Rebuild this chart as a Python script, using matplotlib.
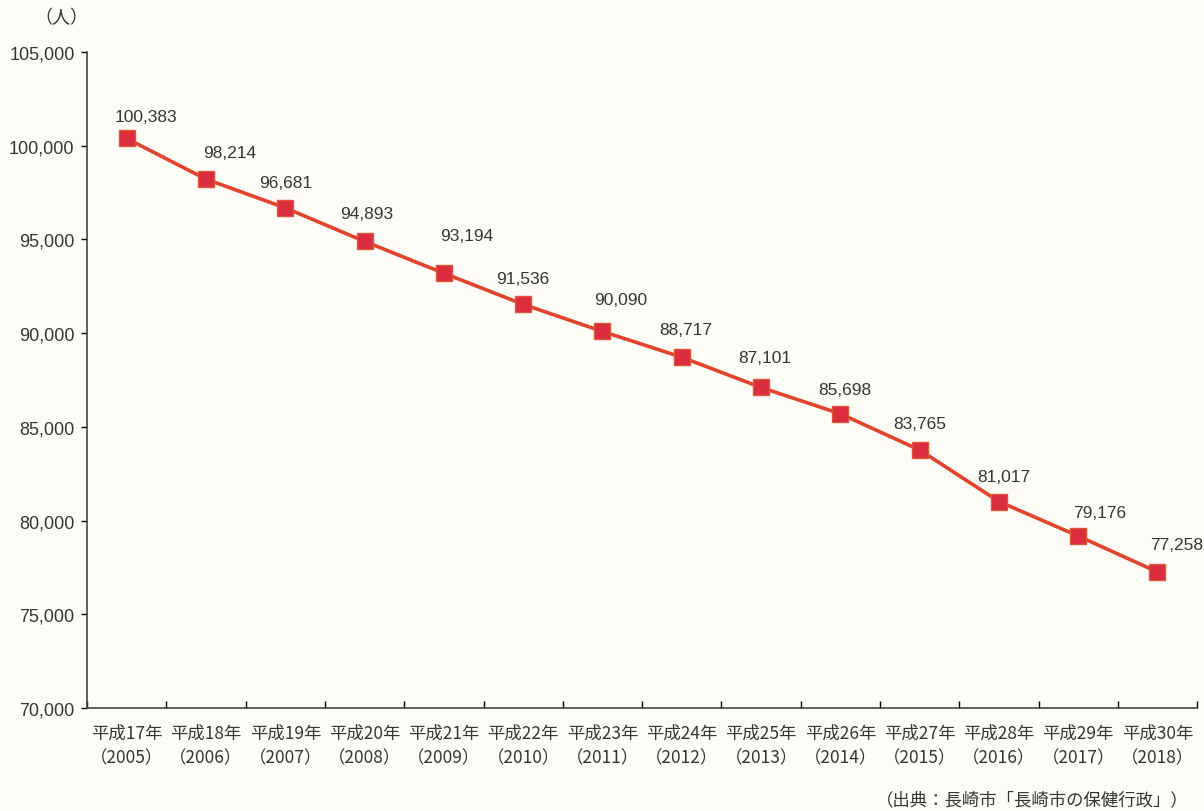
import numpy as np
import matplotlib
matplotlib.use('Agg')
import matplotlib.pyplot as plt
from matplotlib.ticker import FuncFormatter

plt.rcParams['font.family'] = ['Noto Sans CJK JP', 'DejaVu Sans']

# data
eras = ['平成17年', '平成18年', '平成19年', '平成20年', '平成21年', '平成22年', '平成23年',
        '平成24年', '平成25年', '平成26年', '平成27年', '平成28年', '平成29年', '平成30年']
years = [2005, 2006, 2007, 2008, 2009, 2010, 2011, 2012, 2013, 2014, 2015, 2016, 2017, 2018]
population = [100383, 98214, 96681, 94893, 93194, 91536, 90090,
              88717, 87101, 85698, 83765, 81017, 79176, 77258]

# label offsets in pixels (dx, dy) -- layout only
label_off = [(19, 22), (24, 27), (0, 25), (2, 28), (23, 38), (0, 26), (18, 32),
             (4, 28), (4, 30), (4, 24), (0, 27), (5, 25), (21, 24), (19, 27)]

bg = '#fdfcf6'
num_font = ['Liberation Sans', 'DejaVu Sans']
fig = plt.figure(figsize=(12.04, 8.12), dpi=100, facecolor=bg)
ax = fig.add_axes([0.0723, 0.1268, 0.922, 0.808], facecolor=bg)

x = np.arange(len(population))
ax.plot(x, population, color='#e3432c', lw=2.6, zorder=2)
ax.plot(x, population, ls='none', marker='s', ms=11, mfc='#da2d3e',
        mec='#e0553a', mew=1.0, zorder=3)

for i, v in enumerate(population):
    dx, dy = label_off[i]
    ax.annotate(f'{v:,}', (x[i], v), xytext=(dx, dy), textcoords='offset pixels',
                ha='center', va='center', fontsize=12.5, color='#363636',
                family=num_font)

ax.set_xlim(-0.5, len(population) - 0.5)
ax.set_ylim(70000, 105000)
ax.set_yticks(np.arange(70000, 105001, 5000))
ax.yaxis.set_major_formatter(FuncFormatter(lambda v, p: f'{int(v):,}'))
ax.tick_params(axis='y', direction='out', length=4, width=1, labelsize=13,
               labelcolor='#363636', pad=5)
for t in ax.get_yticklabels():
    t.set_family(num_font)

ax.set_xticks(np.arange(-0.5, len(population), 1.0))
ax.set_xticklabels([])
ax.tick_params(axis='x', direction='in', length=5, width=1)
ax.set_xticks(x, minor=True)
ax.set_xticklabels([f'{e}\n（{y}）' for e, y in zip(eras, years)], minor=True,
                   fontsize=12.5, color='#363636', linespacing=1.5)
ax.tick_params(axis='x', which='minor', length=0, pad=11)

for s in ['top', 'right']:
    ax.spines[s].set_visible(False)
for s in ['left', 'bottom']:
    ax.spines[s].set_color('#444444')
    ax.spines[s].set_linewidth(1.2)

fig.text(0.029, 0.978, '（人）', fontsize=13, color='#363636', va='center')
fig.text(0.987, 0.014, '（出典：長崎市「長崎市の保健行政」）', fontsize=12.5,
         color='#363636', ha='right', va='center')

fig.savefig('out.png', dpi=100, facecolor=bg)
